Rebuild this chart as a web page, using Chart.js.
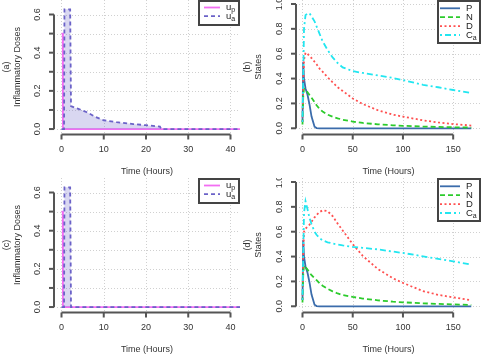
<!DOCTYPE html>
<html>
<head>
<meta charset="utf-8">
<script src="https://cdn.jsdelivr.net/npm/chart.js@4.4.1/dist/chart.umd.min.js"></script>
<style>
html, body { margin: 0; padding: 0; background: #fff; }
#wrap { position: relative; width: 482px; height: 356px; overflow: hidden; }
.panel { position: absolute; width: 241px; height: 178px; }
</style>
</head>
<body>
<div id="wrap">
  <div class="panel" style="left:0;top:0"><canvas id="cA" width="241" height="178"></canvas></div>
  <div class="panel" style="left:241px;top:0"><canvas id="cB" width="241" height="178"></canvas></div>
  <div class="panel" style="left:0;top:178px"><canvas id="cC" width="241" height="178"></canvas></div>
  <div class="panel" style="left:241px;top:178px"><canvas id="cD" width="241" height="178"></canvas></div>
</div>
<script>
// axis ticks
const doseTicksX = [0, 10, 20, 30, 40];
const doseTicksY = [0, 0.1, 0.2, 0.3, 0.4, 0.5, 0.6];
const doseLabelsY = ['0.0', '', '0.2', '', '0.4', '', '0.6'];
const stateTicksX = [0, 50, 100, 150];
const stateTicksY = [0, 0.2, 0.4, 0.6, 0.8, 1.0];
const stateLabelsY = ['0.0', '0.2', '0.4', '0.6', '0.8', '1.0'];

// doses (a) and (c)
const tUp = [0, 0.3, 0.35, 42.5];
const upDose = [0.5, 0.5, 0, 0];
const tUaA = [0, 0.6, 0.7, 2.05, 2.25, 3, 4, 6, 8, 10, 13, 17, 20, 23.3, 23.6, 42.5];
const uaA = [0, 0, 0.627, 0.627, 0.12, 0.113, 0.106, 0.088, 0.064, 0.046, 0.036, 0.026, 0.02, 0.013, 0, 0];
const tUaC = [0, 0.6, 0.7, 2.05, 2.25, 42.5];
const uaC = [0, 0, 0.627, 0.627, 0, 0];

// states (b) and (d)
const tState = [0, 0.7, 1.5, 3, 5, 7, 9, 12, 14, 17, 20, 25, 30, 35, 40, 50, 60, 75, 90, 100, 120, 135, 150, 168];
const pState = [0.05, 0.535, 0.4, 0.32, 0.27, 0.19, 0.094, 0.013, 0.002, 0, 0, 0, 0, 0, 0, 0, 0, 0, 0, 0, 0, 0, 0, 0];
const nB  = [0.03, 0.25, 0.32, 0.31, 0.29, 0.268, 0.245, 0.21, 0.185, 0.155, 0.135, 0.11, 0.093, 0.08, 0.069, 0.054, 0.043, 0.032, 0.024, 0.02, 0.014, 0.011, 0.008, 0.006];
const dB  = [0.05, 0.35, 0.55, 0.608, 0.6, 0.58, 0.565, 0.535, 0.515, 0.48, 0.455, 0.41, 0.37, 0.33, 0.3, 0.24, 0.195, 0.145, 0.11, 0.094, 0.064, 0.047, 0.034, 0.022];
const caB = [0.05, 0.4, 0.8, 0.91, 0.925, 0.925, 0.9, 0.86, 0.82, 0.76, 0.7, 0.63, 0.57, 0.525, 0.49, 0.46, 0.445, 0.425, 0.405, 0.388, 0.35, 0.33, 0.308, 0.283];
const nD  = [0.03, 0.25, 0.33, 0.315, 0.295, 0.27, 0.25, 0.225, 0.21, 0.185, 0.165, 0.14, 0.12, 0.103, 0.09, 0.075, 0.062, 0.048, 0.037, 0.032, 0.024, 0.019, 0.015, 0.011];
const dD  = [0.05, 0.4, 0.6, 0.625, 0.64, 0.657, 0.68, 0.715, 0.735, 0.758, 0.772, 0.765, 0.725, 0.665, 0.61, 0.5, 0.405, 0.3, 0.225, 0.188, 0.122, 0.092, 0.072, 0.048];
const caD = [0.05, 0.4, 0.75, 0.845, 0.78, 0.71, 0.66, 0.6, 0.575, 0.548, 0.53, 0.515, 0.505, 0.497, 0.49, 0.478, 0.47, 0.458, 0.44, 0.429, 0.402, 0.382, 0.362, 0.335];

const FONT = '"Liberation Sans", Arial, Helvetica, sans-serif';
const COL = { up: '#f26ef2', ua: '#6b62c8', uaFill: 'rgba(110,100,200,0.26)', p: '#3b6cab', n: '#2ccb2c', d: '#ff5050', ca: '#22e6f0' };
const pts = (xs, ys) => xs.map((x, i) => ({ x, y: ys[i] }));

// R style axes: dotted grid, detached axis lines, rotated y labels
const rAxes = {
    id: 'rAxes',
    beforeDatasetsDraw(chart, args, o) {
        const { ctx, chartArea: a, scales: { x, y } } = chart;
        ctx.save();
        ctx.strokeStyle = '#d0d0d0'; ctx.lineWidth = 1; ctx.setLineDash([1, 2]);
        o.xTicks.forEach(v => {
            const px = Math.round(x.getPixelForValue(v)) + 0.5;
            ctx.beginPath(); ctx.moveTo(px, a.top); ctx.lineTo(px, a.bottom); ctx.stroke();
        });
        o.yTicks.forEach(v => {
            const py = Math.round(y.getPixelForValue(v)) + 0.5;
            ctx.beginPath(); ctx.moveTo(a.left, py); ctx.lineTo(a.right, py); ctx.stroke();
        });
        ctx.restore();
    },
    afterDraw(chart, args, o) {
        const { ctx, chartArea: a, scales: { x, y } } = chart;
        ctx.save();
        ctx.strokeStyle = '#555'; ctx.lineWidth = 2; ctx.setLineDash([]);
        const xb = a.bottom + 0.5, yl = a.left;
        const x0 = x.getPixelForValue(o.xTicks[0]), x1 = x.getPixelForValue(o.xTicks[o.xTicks.length - 1]);
        ctx.beginPath(); ctx.moveTo(x0, xb); ctx.lineTo(x1, xb); ctx.stroke();
        o.xTicks.forEach(v => {
            const px = x.getPixelForValue(v);
            ctx.beginPath(); ctx.moveTo(px, xb); ctx.lineTo(px, xb + 5); ctx.stroke();
        });
        const y0 = y.getPixelForValue(o.yTicks[0]), y1 = y.getPixelForValue(o.yTicks[o.yTicks.length - 1]);
        ctx.beginPath(); ctx.moveTo(yl, y0); ctx.lineTo(yl, y1); ctx.stroke();
        o.yTicks.forEach(v => {
            const py = y.getPixelForValue(v);
            ctx.beginPath(); ctx.moveTo(yl, py); ctx.lineTo(yl - 5, py); ctx.stroke();
        });

        ctx.fillStyle = '#333'; ctx.font = '9px ' + FONT;
        ctx.textAlign = 'center'; ctx.textBaseline = 'middle';
        o.xTicks.forEach(v => ctx.fillText(String(v), x.getPixelForValue(v), a.bottom + 16));
        ctx.fillText('Time (Hours)', (a.left + a.right) / 2, a.bottom + 38);
        o.yTicks.forEach((v, i) => {
            if (!o.yLabels[i]) return;
            ctx.save();
            ctx.translate(a.left - 16, y.getPixelForValue(v));
            ctx.rotate(-Math.PI / 2);
            ctx.fillText(o.yLabels[i], 0, 0);
            ctx.restore();
        });
        const cy = (a.top + a.bottom) / 2;
        ctx.save(); ctx.translate(7, cy); ctx.rotate(-Math.PI / 2); ctx.fillText(o.tag, 0, 0); ctx.restore();
        ctx.save(); ctx.translate(18, cy); ctx.rotate(-Math.PI / 2); ctx.fillText(o.yTitle, 0, 0); ctx.restore();

        // legend box
        const L = o.legend;
        ctx.fillStyle = '#fff';
        ctx.fillRect(L.x0, L.y0, L.x1 - L.x0, L.y1 - L.y0);
        ctx.strokeStyle = '#444'; ctx.lineWidth = 2;
        ctx.strokeRect(L.x0 + 1, L.y0 + 1, L.x1 - L.x0 - 2, L.y1 - L.y0 - 2);
        L.items.forEach((it, i) => {
            const ly = L.y0 + L.first + i * L.step;
            ctx.strokeStyle = it.color; ctx.lineWidth = 1.8; ctx.setLineDash(it.dash);
            ctx.beginPath(); ctx.moveTo(L.x0 + L.lineFrom, ly); ctx.lineTo(L.x0 + L.lineTo, ly); ctx.stroke();
            ctx.setLineDash([]);
            ctx.fillStyle = '#222'; ctx.textAlign = 'left'; ctx.textBaseline = 'middle';
            ctx.font = '9.5px ' + FONT;
            const tx = L.x0 + L.text;
            ctx.fillText(it.label, tx, ly);
            if (it.sub) {
                const w = ctx.measureText(it.label).width;
                ctx.font = '7px ' + FONT;
                ctx.fillText(it.sub, tx + w, ly + 3);
            }
        });
        ctx.restore();
    }
};

const line = (label, data, color, dash, order, extra) => Object.assign({
    label, data, borderColor: color, borderWidth: 1.8, borderDash: dash,
    pointRadius: 0, tension: 0, fill: false, order
}, extra || {});

function makeChart(id, datasets, xr, yr, axes, padLeft) {
    return new Chart(document.getElementById(id), {
        type: 'line',
        data: { datasets },
        options: {
            responsive: false, animation: false, events: [],
            layout: { padding: { left: padLeft, right: 1, top: 0, bottom: 44 } },
            scales: {
                x: { type: 'linear', display: false, min: xr[0], max: xr[1] },
                y: { type: 'linear', display: false, min: yr[0], max: yr[1] }
            },
            plugins: { legend: { display: false }, tooltip: { enabled: false }, rAxes: axes }
        },
        plugins: [rAxes]
    });
}

const doseLegend = {
    x0: 198, y0: 0, x1: 240, y1: 26, first: 7.5, step: 8.7, lineFrom: 6, lineTo: 22, text: 28,
    items: [
        { label: 'u', sub: 'p', color: COL.up, dash: [] },
        { label: 'u', sub: 'a', color: COL.ua, dash: [4, 3] }
    ]
};
const stateLegend = {
    x0: 196, y0: 0, x1: 240, y1: 44, first: 8.3, step: 8.9, lineFrom: 3, lineTo: 23, text: 29,
    items: [
        { label: 'P', color: COL.p, dash: [] },
        { label: 'N', color: COL.n, dash: [5, 3] },
        { label: 'D', color: COL.d, dash: [2, 2.5] },
        { label: 'C', sub: 'a', color: COL.ca, dash: [2, 3, 6, 3] }
    ]
};

const doseRange = [[-1.775, 42.25], [-0.026, 0.676]];
const stateRange = [[-6.47, 177.7], [-0.046, 1.032]];

function doseSets(tUa, ua) {
    return [
        line('up', pts(tUp, upDose), COL.up, [], 2),
        line('ua', pts(tUa, ua), COL.ua, [4, 3], 1, { fill: 'origin', backgroundColor: COL.uaFill })
    ];
}
function stateSets(n, d, ca) {
    return [
        line('P', pts(tState, pState), COL.p, [], 4),
        line('N', pts(tState, n), COL.n, [5, 3], 3),
        line('D', pts(tState, d), COL.d, [2, 2.5], 2),
        line('Ca', pts(tState, ca), COL.ca, [2, 3, 6, 3], 1)
    ];
}

makeChart('cA', doseSets(tUaA, uaA), doseRange[0], doseRange[1],
    { xTicks: doseTicksX, yTicks: doseTicksY, yLabels: doseLabelsY, tag: '(a)', yTitle: 'Inflammatory Doses', legend: doseLegend }, 54);
makeChart('cB', stateSets(nB, dB, caB), stateRange[0], stateRange[1],
    { xTicks: stateTicksX, yTicks: stateTicksY, yLabels: stateLabelsY, tag: '(b)', yTitle: 'States', legend: stateLegend }, 55);
makeChart('cC', doseSets(tUaC, uaC), doseRange[0], doseRange[1],
    { xTicks: doseTicksX, yTicks: doseTicksY, yLabels: doseLabelsY, tag: '(c)', yTitle: 'Inflammatory Doses', legend: doseLegend }, 54);
makeChart('cD', stateSets(nD, dD, caD), stateRange[0], stateRange[1],
    { xTicks: stateTicksX, yTicks: stateTicksY, yLabels: stateLabelsY, tag: '(d)', yTitle: 'States', legend: stateLegend }, 55);
</script>
</body>
</html>
